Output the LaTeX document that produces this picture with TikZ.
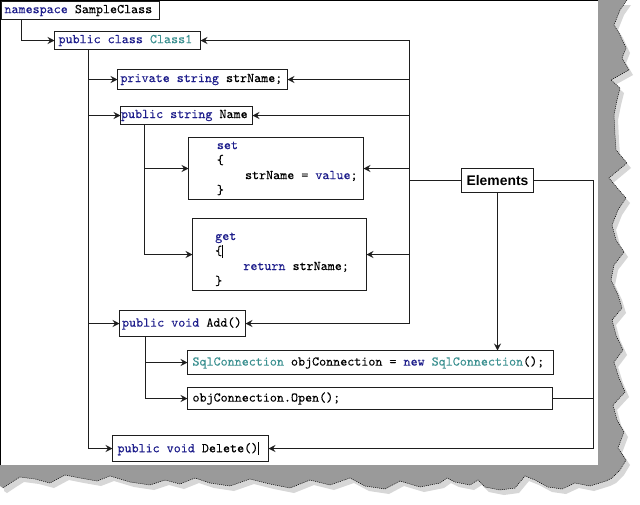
\documentclass[tikz,border=0pt]{standalone}
\usepackage{fontspec}
\setsansfont{Liberation Sans}
\newfontfamily\codeface[RawFeature={embolden=0.15}]{lmmono10-regular.otf}
\usetikzlibrary{arrows.meta}
\definecolor{kwc}{RGB}{30,30,140}
\definecolor{clsc}{RGB}{60,145,145}
\definecolor{lnc}{RGB}{30,30,30}
\definecolor{shadec}{RGB}{154,154,154}
\definecolor{softc}{RGB}{215,215,215}
\newcommand{\kwd}[1]{\textcolor{kwc}{#1}}
\newcommand{\cln}[1]{\textcolor{clsc}{#1}}
\newcommand{\cursorbar}{\rule[-2.5pt]{0.7pt}{13pt}}
\newcommand{\codefnt}{\codeface\fontsize{13.4}{15}\selectfont}
\begin{document}
\begin{tikzpicture}[x=1pt,y=-1pt,
  codefont/.style={font=\codefnt, execute at begin node={\spaceskip 0.525em\relax\xspaceskip 0.525em\relax}},
  codebox/.style={codefont, draw=lnc, line width=1pt, fill=white, anchor=north west,
    outer sep=0pt, inner ysep=0pt, align=flush left},
  codetext/.style={codefont, anchor=north west, inner sep=0pt, align=flush left},
  conn/.style={draw=lnc, line width=1pt},
  arr/.style={conn, -{Stealth[length=7pt,width=7pt,inset=2.5pt]}},
  labelbox/.style={draw=lnc, line width=1pt, fill=white, anchor=north west, outer sep=0pt,
    font=\sffamily\bfseries\fontsize{13.9}{16}\selectfont, inner sep=0pt}
]
\useasboundingbox (0,0) rectangle (640,504);
% torn-paper shadow
\def\raggedpath{(598,0) -- (627,0) -- (620,10) -- (614,25) -- (619,33) -- (626,48) -- (622,58) -- (629,70) -- (611,80) -- (620,88) -- (617,100) -- (614,115) -- (615,135) -- (616,150) -- (627,163) -- (609,178) -- (619,190) -- (626,198) -- (618,210) -- (612,225) -- (616,240) -- (624,252) -- (614,265) -- (611,280) -- (618,295) -- (622,308) -- (612,320) -- (616,335) -- (623,350) -- (614,362) -- (619,378) -- (625,392) -- (613,405) -- (617,420) -- (624,432) -- (618,448) -- (626,460) -- (620,470) -- (612,478) -- (606,481) -- (590,486) -- (575,483) -- (562,489) -- (548,487) -- (535,480) -- (525,476) -- (515,488) -- (500,490) -- (485,487) -- (478,480) -- (470,485) -- (455,482) -- (447,478) -- (440,483) -- (420,487) -- (400,481) -- (385,489) -- (365,486) -- (350,478) -- (330,485) -- (310,480) -- (290,488) -- (270,484) -- (250,479) -- (230,486) -- (210,483) -- (195,478) -- (180,484) -- (165,480) -- (150,485) -- (130,482) -- (110,476) -- (97,481) -- (80,478) -- (65,475) -- (50,483) -- (35,479) -- (20,477) -- (12,482) -- (3,488) -- (0,486) -- (0,465) -- (598,465) -- cycle}
\fill[softc, xshift=4pt, yshift=-5pt] \raggedpath;
\fill[shadec] \raggedpath;
\draw[black, line width=0.5pt, dash pattern=on 1pt off 1pt] (627,0) -- (620,10) -- (614,25) -- (619,33) -- (626,48) -- (622,58) -- (629,70) -- (611,80) -- (620,88) -- (617,100) -- (614,115) -- (615,135) -- (616,150) -- (627,163) -- (609,178) -- (619,190) -- (626,198) -- (618,210) -- (612,225) -- (616,240) -- (624,252) -- (614,265) -- (611,280) -- (618,295) -- (622,308) -- (612,320) -- (616,335) -- (623,350) -- (614,362) -- (619,378) -- (625,392) -- (613,405) -- (617,420) -- (624,432) -- (618,448) -- (626,460) -- (620,470) -- (612,478) -- (606,481) -- (590,486) -- (575,483) -- (562,489) -- (548,487) -- (535,480) -- (525,476) -- (515,488) -- (500,490) -- (485,487) -- (478,480) -- (470,485) -- (455,482) -- (447,478) -- (440,483) -- (420,487) -- (400,481) -- (385,489) -- (365,486) -- (350,478) -- (330,485) -- (310,480) -- (290,488) -- (270,484) -- (250,479) -- (230,486) -- (210,483) -- (195,478) -- (180,484) -- (165,480) -- (150,485) -- (130,482) -- (110,476) -- (97,481) -- (80,478) -- (65,475) -- (50,483) -- (35,479) -- (20,477) -- (12,482) -- (3,488);
\fill[white] (0,0) rectangle (598,465);
\draw[black, line width=1pt] (0.5,465) -- (0.5,0.5) -- (598,0.5);

% boxes
\node[codebox, inner xsep=3pt, text width=152pt, minimum height=18pt] (ns) at (1.5,1.5) {\kwd{namespace} SampleClass};
\node[codebox, inner xsep=4pt, text width=138pt, minimum height=18pt] (c1) at (54.5,31.5) {\kwd{public class} \cln{Class1}};
\node[codebox, inner xsep=3pt, text width=164pt, minimum height=20pt] (sn) at (117.5,69.5) {\kwd{private string} strName;};
\node[codebox, inner xsep=0.5pt, text width=131pt, minimum height=18pt] (nm) at (120.5,106.5) {\kwd{public string} Name};
\node[codebox, inner xsep=0pt, text width=175pt, minimum height=62pt] (setbox) at (188.5,137.5) {};
\node[codetext] (settext) at (216.7,141.5) {\kwd{set}\\\{\\\phantom{xxxx}strName = \kwd{value};\\\}};
\node[codebox, inner xsep=0pt, text width=174pt, minimum height=72pt] (getbox) at (192.5,218.5) {};
\node[codetext] (gettext) at (215,232.4) {\kwd{get}\\\{\cursorbar\\\phantom{xxxx}\kwd{return} strName;\\\}};
\node[codebox, inner xsep=2.5pt, text width=121pt, minimum height=26pt] (add) at (119.5,310.5) {\kwd{public void} Add()};
\node[codebox, inner xsep=5pt, text width=356pt, minimum height=24pt] (sql) at (187.5,350.5) {\cln{SqlConnection} objConnection = \kwd{new} \cln{SqlConnection}();};
\node[codebox, inner xsep=5pt, text width=355pt, minimum height=22pt] (open) at (187.5,387.5) {objConnection.Open();};
\node[codebox, inner xsep=5pt, text width=146pt, minimum height=26pt] (del) at (112.5,435.5) {\kwd{public void} Delete()\cursorbar};
\node[labelbox, minimum width=72pt, minimum height=24pt] (el) at (461.5,168.5) {Elements};

% bus coordinates
\coordinate (nsdrop) at (21.5,19.5);
\coordinate (lb) at (88.5,49.5);
\coordinate (nb) at (144.5,124.5);
\coordinate (ab) at (145.5,336.5);
\coordinate (rb) at (409.5,0);
\coordinate (rl) at (593.5,0);

% namespace -> class
\draw[arr] (nsdrop) |- (c1.west);
% left bus from class
\draw[conn] (lb) -- (lb |- del.west);
\draw[arr] (lb |- sn.west) -- (sn.west);
\draw[arr] (lb |- nm.west) -- (nm.west);
\draw[arr] (lb |- add.west) -- (add.west);
\draw[arr] (lb |- del.west) -- (del.west);
% property bus
\draw[conn] (nb) -- (nb |- getbox.west);
\draw[arr] (nb |- setbox.west) -- (setbox.west);
\draw[arr] (nb |- getbox.west) -- (getbox.west);
% method bus
\draw[conn] (ab) -- (ab |- open.west);
\draw[arr] (ab |- sql.west) -- (sql.west);
\draw[arr] (ab |- open.west) -- (open.west);
% right bus
\draw[conn] (rb |- c1.east) -- (rb |- add.east);
\draw[arr] (rb |- c1.east) -- (c1.east);
\draw[arr] (rb |- sn.east) -- (sn.east);
\draw[arr] (rb |- nm.east) -- (nm.east);
\draw[arr] (rb |- setbox.east) -- (setbox.east);
\draw[arr] (rb |- getbox.east) -- (getbox.east);
\draw[arr] (rb |- add.east) -- (add.east);
% Elements
\draw[conn] (el.west) -- (rb |- el.west);
\draw[arr] (el.south) -- (el.south |- sql.north);
\draw[arr] (el.east) -| (rl |- del.east) -- (del.east);
\draw[conn] (open.east) -- (rl |- open.east);
\end{tikzpicture}
\end{document}
